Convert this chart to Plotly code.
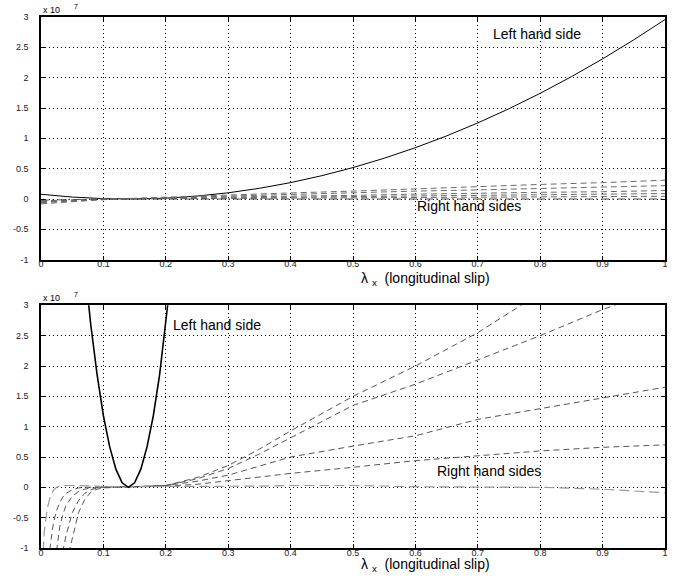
import plotly.graph_objects as go

# ---------------- Top panel data ----------------
x_top_lhs = [0.0, 0.05, 0.1, 0.15, 0.2, 0.25, 0.3, 0.35, 0.4, 0.45, 0.5,
             0.55, 0.6, 0.65, 0.7, 0.75, 0.8, 0.85, 0.9, 0.95, 1.0]
y_top_lhs = [0.078, 0.032, 0.006, 0.0004, 0.014, 0.048, 0.102, 0.176, 0.27, 0.384, 0.518,
             0.672, 0.846, 1.04, 1.254, 1.488, 1.742, 2.016, 2.31, 2.624, 2.958]

x_top_rhs = [0.0, 0.1, 0.2, 0.3, 0.4, 0.5, 0.6, 0.7, 0.8, 0.9, 1.0]
y_top_r1 = [-0.08, -0.01, 0.03, 0.07, 0.10, 0.13, 0.17, 0.20, 0.24, 0.27, 0.31]
y_top_r2 = [-0.06, -0.01, 0.02, 0.05, 0.08, 0.10, 0.13, 0.15, 0.17, 0.20, 0.22]
y_top_r3 = [-0.05, 0.0, 0.02, 0.03, 0.05, 0.06, 0.08, 0.10, 0.11, 0.12, 0.14]
y_top_r4 = [-0.04, 0.0, 0.01, 0.02, 0.03, 0.04, 0.05, 0.06, 0.07, 0.08, 0.09]
y_top_r5 = [-0.03, 0.0, 0.005, 0.01, 0.015, 0.02, 0.025, 0.03, 0.035, 0.04, 0.045]
y_top_r6 = [-0.02, 0.0, 0.0, 0.0, 0.0, 0.0, 0.0, 0.0, 0.0, 0.0, 0.0]

# ---------------- Bottom panel data ----------------
x_bot_lhs = [0.07, 0.08, 0.09, 0.10, 0.11, 0.12, 0.13, 0.14, 0.15, 0.16, 0.17, 0.18, 0.19, 0.20, 0.21]
y_bot_lhs = [3.63, 2.66, 1.85, 1.18, 0.67, 0.30, 0.074, 0.0, 0.074, 0.30, 0.67, 1.18, 1.85, 2.66, 3.63]

x_bot_rhs = [0.0, 0.005, 0.01, 0.015, 0.02, 0.025, 0.03, 0.035, 0.04, 0.05, 0.06, 0.07, 0.08, 0.09,
             0.1, 0.12, 0.15, 0.2, 0.25, 0.3, 0.35, 0.4, 0.5, 0.6, 0.7, 0.8, 0.9, 1.0]
y_bot_a = [-6.0, -5.2, -4.5, -3.8, -3.1, -2.5, -2.0, -1.6, -1.3, -0.85, -0.42, -0.2, -0.08, -0.03,
           -0.01, 0.0, 0.01, 0.03, 0.16, 0.36, 0.63, 0.93, 1.5, 2.0, 2.55, 3.2, 3.8, 4.4]
y_bot_b = [-5.0, -4.2, -3.5, -2.8, -2.2, -1.7, -1.35, -1.05, -0.8, -0.42, -0.22, -0.1, -0.04, -0.01,
           0.0, 0.01, 0.01, 0.03, 0.14, 0.31, 0.55, 0.82, 1.35, 1.7, 2.1, 2.5, 2.93, 3.3]
y_bot_c = [-4.0, -3.2, -2.4, -1.8, -1.35, -1.05, -0.65, -0.45, -0.3, -0.15, -0.07, -0.03, -0.01, 0.0,
           0.0, 0.01, 0.01, 0.03, 0.10, 0.20, 0.35, 0.50, 0.68, 0.85, 1.12, 1.3, 1.48, 1.65]
y_bot_d = [-3.0, -2.2, -1.4, -0.95, -0.58, -0.38, -0.25, -0.16, -0.1, -0.04, -0.01, 0.0, 0.0, 0.01,
           0.01, 0.01, 0.01, 0.02, 0.05, 0.11, 0.17, 0.23, 0.33, 0.44, 0.52, 0.6, 0.66, 0.7]
y_bot_e = [-1.8, -0.75, -0.35, -0.15, -0.05, 0.0, 0.02, 0.03, 0.03, 0.03, 0.03, 0.03, 0.02, 0.02,
           0.01, 0.01, 0.01, 0.01, 0.01, 0.01, 0.02, 0.03, 0.03, 0.01, 0.0, 0.0, -0.03, -0.09]

x_ticks = [0, 0.1, 0.2, 0.3, 0.4, 0.5, 0.6, 0.7, 0.8, 0.9, 1]
x_tick_labels = ["0", "0.1", "0.2", "0.3", "0.4", "0.5", "0.6", "0.7", "0.8", "0.9", "1"]
y_ticks = [-1, -0.5, 0, 0.5, 1, 1.5, 2, 2.5, 3]
y_tick_labels = ["-1", "-0.5", "0", "0.5", "1", "1.5", "2", "2.5", "3"]

FONT = "Liberation Sans, Arial, sans-serif"
DASH = "6px,4px"
GRAY = "#555555"

fig = go.Figure()

# top panel
fig.add_trace(go.Scatter(x=x_top_lhs, y=y_top_lhs, mode="lines",
                         line=dict(color="black", width=1), xaxis="x", yaxis="y"))
for ys in [y_top_r1, y_top_r2, y_top_r3, y_top_r4, y_top_r5]:
    fig.add_trace(go.Scatter(x=x_top_rhs, y=ys, mode="lines",
                             line=dict(color="#6a6a6a", width=1, dash=DASH), xaxis="x", yaxis="y"))
fig.add_trace(go.Scatter(x=x_top_rhs, y=y_top_r6, mode="lines",
                         line=dict(color=GRAY, width=1, dash="8px,3px,2px,3px"), xaxis="x", yaxis="y"))

# bottom panel
for ys in [y_bot_a, y_bot_b, y_bot_c, y_bot_d]:
    fig.add_trace(go.Scatter(x=x_bot_rhs, y=ys, mode="lines",
                             line=dict(color=GRAY, width=1, dash=DASH), xaxis="x2", yaxis="y2"))
fig.add_trace(go.Scatter(x=x_bot_rhs, y=y_bot_e, mode="lines",
                         line=dict(color="#9a9a9a", width=1.2, dash="10px,5px"), xaxis="x2", yaxis="y2"))
fig.add_trace(go.Scatter(x=x_bot_lhs, y=y_bot_lhs, mode="lines",
                         line=dict(color="black", width=1.6), xaxis="x2", yaxis="y2"))

axis_common = dict(
    showgrid=True, gridcolor="black", gridwidth=1, griddash="1px,3px",
    showline=True, linecolor="black", linewidth=1.5, mirror="ticks",
    ticks="inside", ticklen=4, tickcolor="black",
    zeroline=False, tickfont=dict(family=FONT, size=9, color="#222222"),
)

fig.update_layout(
    width=685, height=581,
    margin=dict(l=41, r=20, t=14, b=33),
    paper_bgcolor="white", plot_bgcolor="white",
    showlegend=False,
    xaxis=dict(domain=[0, 1], range=[0, 1], tickvals=x_ticks, ticktext=x_tick_labels,
               anchor="y", ticklabelstandoff=-5, **axis_common),
    yaxis=dict(domain=[0.543, 1], range=[-1, 3], tickvals=y_ticks, ticktext=y_tick_labels,
               anchor="x", ticklabelstandoff=9, **axis_common),
    xaxis2=dict(domain=[0, 1], range=[0, 1], tickvals=x_ticks, ticktext=x_tick_labels,
                anchor="y2", ticklabelstandoff=-5, **axis_common),
    yaxis2=dict(domain=[0, 0.457], range=[-1, 3], tickvals=y_ticks, ticktext=y_tick_labels,
                anchor="x2", ticklabelstandoff=9, **axis_common),
)

ann_font = dict(family=FONT, size=14, color="black")
small_font = dict(family=FONT, size=9, color="black")
xtitle_text = "λ <sub>x</sub>  (longitudinal slip)"
annotations = [
    dict(x=0.721, y=2.72, xref="x", yref="y", text="Left hand side", showarrow=False,
         xanchor="left", yanchor="middle", font=ann_font),
    dict(x=0.6, y=-0.12, xref="x", yref="y", text="Right hand sides", showarrow=False,
         xanchor="left", yanchor="middle", font=ann_font),
    dict(x=0.209, y=2.68, xref="x2", yref="y2", text="Left hand side", showarrow=False,
         xanchor="left", yanchor="middle", font=ann_font),
    dict(x=0.632, y=0.27, xref="x2", yref="y2", text="Right hand sides", showarrow=False,
         xanchor="left", yanchor="middle", font=ann_font),
    dict(x=0.51, y=0.5065, xref="paper", yref="paper", text=xtitle_text, showarrow=False,
         xanchor="left", yanchor="middle", font=ann_font),
    dict(x=0.51, y=-0.0316, xref="paper", yref="paper", text=xtitle_text, showarrow=False,
         xanchor="left", yanchor="middle", font=ann_font),
]
for ypos in [1.0, 0.457]:
    annotations.append(dict(x=0.0, y=ypos, xref="paper", yref="paper", text="x 10",
                            showarrow=False, xanchor="left", yanchor="bottom",
                            yshift=0, font=small_font))
    annotations.append(dict(x=0.05, y=ypos, xref="paper", yref="paper", text="7",
                            showarrow=False, xanchor="left", yanchor="bottom",
                            yshift=5, font=dict(family=FONT, size=7, color="black")))
fig.update_layout(annotations=annotations)

fig.write_html("out.html")
